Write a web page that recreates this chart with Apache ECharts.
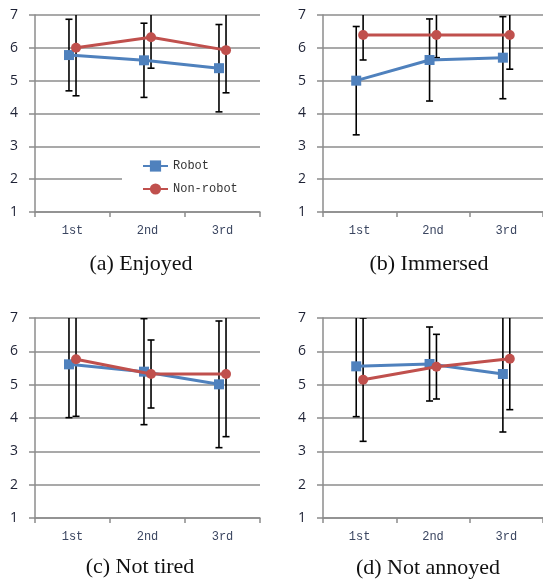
<!DOCTYPE html>
<html>
<head>
<meta charset="utf-8">
<script src="https://cdn.jsdelivr.net/npm/echarts@6/dist/echarts.min.js"></script>
<style>
html,body{margin:0;padding:0;background:#fff;}
#chart{width:543px;height:580px;}
</style>
</head>
<body>
<div id="chart"></div>
<script>
// ---- data ----
const categories = ['1st', '2nd', '3rd'];
const seriesNames = ['Robot', 'Non-robot'];
const panelTitles = ['(a) Enjoyed', '(b) Immersed', '(c) Not tired', '(d) Not annoyed'];
const yMin = 1, yMax = 7, yStep = 1;

const enjoyedRobot = [5.78, 5.62, 5.38];
const enjoyedRobotErr = [1.09, 1.13, 1.33];
const enjoyedNon = [6.00, 6.32, 5.93];
const enjoyedNonErr = [1.46, 0.94, 1.30];

const immersedRobot = [5.00, 5.63, 5.70];
const immersedRobotErr = [1.65, 1.25, 1.25];
const immersedNon = [6.39, 6.39, 6.39];
const immersedNonErr = [0.76, 0.69, 1.04];

const tiredRobot = [5.61, 5.39, 5.01];
const tiredRobotErr = [1.60, 1.59, 1.90];
const tiredNon = [5.76, 5.32, 5.32];
const tiredNonErr = [1.71, 1.02, 1.88];

const annoyedRobot = [5.55, 5.62, 5.32];
const annoyedRobotErr = [1.51, 1.11, 1.74];
const annoyedNon = [5.15, 5.54, 5.78];
const annoyedNonErr = [1.85, 0.97, 1.53];

// ---- layout / style ----
const panelData = [
  [enjoyedRobot, enjoyedRobotErr, enjoyedNon, enjoyedNonErr],
  [immersedRobot, immersedRobotErr, immersedNon, immersedNonErr],
  [tiredRobot, tiredRobotErr, tiredNon, tiredNonErr],
  [annoyedRobot, annoyedRobotErr, annoyedNon, annoyedNonErr]
];
const gridPos = [
  {left: 35, top: 15, width: 225, height: 197},
  {left: 323, top: 15, width: 225, height: 197},
  {left: 35, top: 318, width: 225, height: 200},
  {left: 323, top: 318, width: 225, height: 200}
];
const captionPos = [[141, 264], [429, 264], [140, 567], [428, 568]];
const DX = 0.047; // horizontal offset of the two groups (fraction of category)
const colors = ['#4F81BD', '#C0504D'];
const symbols = ['rect', 'circle'];
const symbolSizes = [10, 10];
const gridColor = '#8c8c8c';

function renderErr(params, api) {
  const x = api.value(0), m = api.value(1), e = api.value(2);
  const t = api.coord([x, m + e]);
  const b = api.coord([x, m - e]);
  const cap = 3.5;
  const st = {stroke: '#000', lineWidth: 1.6};
  return {
    type: 'group',
    children: [
      {type: 'line', shape: {x1: t[0], y1: t[1], x2: b[0], y2: b[1]}, style: st},
      {type: 'line', shape: {x1: t[0] - cap, y1: t[1], x2: t[0] + cap, y2: t[1]}, style: st},
      {type: 'line', shape: {x1: b[0] - cap, y1: b[1], x2: b[0] + cap, y2: b[1]}, style: st}
    ]
  };
}

const grid = [], xAxis = [], yAxis = [], series = [], graphic = [];
panelData.forEach((pd, p) => {
  grid.push(Object.assign({containLabel: false}, gridPos[p]));
  xAxis.push({
    type: 'category', gridIndex: p, data: categories, boundaryGap: true,
    axisLine: {onZero: false, lineStyle: {color: gridColor, width: 1.5}},
    axisTick: {show: true, length: 5, interval: 0, lineStyle: {color: gridColor, width: 1.5}},
    axisLabel: {margin: 13, fontFamily: 'Liberation Mono', fontSize: 12, color: '#3a4560'},
    splitLine: {show: false}
  });
  xAxis.push({type: 'value', gridIndex: p, show: false, min: -0.5, max: categories.length - 0.5});
  yAxis.push({
    type: 'value', gridIndex: p, min: yMin, max: yMax, interval: yStep,
    axisLine: {show: true, onZero: false, lineStyle: {color: gridColor, width: 1.5}},
    axisTick: {show: true, length: 6, lineStyle: {color: gridColor, width: 1.5}},
    axisLabel: {margin: 17, fontFamily: 'Open Sans', fontSize: 14, color: '#1e2235'},
    splitLine: {show: true, lineStyle: {color: gridColor, width: 1.5}}
  });
  [0, 1].forEach(g => {
    const means = pd[g * 2], errs = pd[g * 2 + 1];
    const off = g === 0 ? -DX : DX;
    series.push({
      type: 'custom', name: seriesNames[g] + ' err', xAxisIndex: p * 2 + 1, yAxisIndex: p,
      renderItem: renderErr, clip: true, z: 1, silent: true,
      encode: {x: 0, y: 1},
      data: means.map((m, i) => [i + off, m, errs[i]])
    });
  });
  [0, 1].forEach(g => {
    const means = pd[g * 2];
    const off = g === 0 ? -DX : DX;
    series.push({
      type: 'line', name: seriesNames[g], xAxisIndex: p * 2 + 1, yAxisIndex: p,
      data: means.map((m, i) => [i + off, m]),
      symbol: symbols[g], symbolSize: symbolSizes[g], showSymbol: true,
      lineStyle: {color: colors[g], width: 3},
      itemStyle: {color: colors[g]},
      z: 2 + g, animation: false
    });
  });
  graphic.push({
    type: 'text', x: captionPos[p][0], y: captionPos[p][1],
    style: {text: panelTitles[p], font: '22px "Liberation Serif"', fill: '#111',
            textAlign: 'center', textVerticalAlign: 'middle'}
  });
});

const chart = echarts.init(document.getElementById('chart'), null, {renderer: 'canvas'});
chart.setOption({
  backgroundColor: '#fff',
  animation: false,
  grid, xAxis, yAxis, series, graphic,
  legend: {
    data: seriesNames, orient: 'vertical', left: 122, top: 152,
    padding: [8, 40, 8, 20], itemGap: 11, itemWidth: 25, itemHeight: 14,
    backgroundColor: '#fff',
    textStyle: {fontFamily: 'Liberation Mono', fontSize: 12, color: '#333'}
  }
});
</script>
</body>
</html>
